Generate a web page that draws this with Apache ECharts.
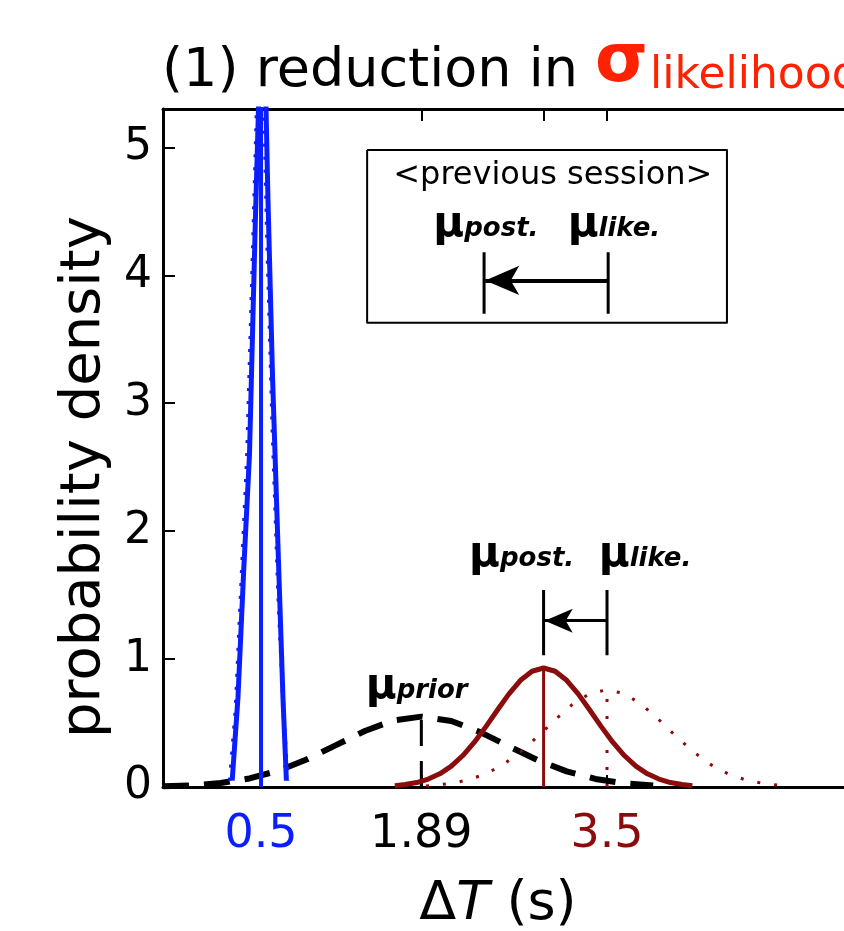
<!DOCTYPE html>
<html><head><meta charset="utf-8">
<script src="https://cdn.jsdelivr.net/npm/echarts@6/dist/echarts.min.js"></script>
<style>html,body{margin:0;padding:0;background:#fff}#c{width:844px;height:931px}</style>
</head><body><div id="c"></div>
<script>
// ---- data ----
const priorX = [-0.35,-0.1,0.15,0.4,0.65,0.9,1.15,1.4,1.65,1.89,2.15,2.4,2.65,2.9,3.15,3.4,3.65,3.9];
const priorY = [0.005,0.013,0.031,0.067,0.127,0.217,0.327,0.438,0.521,0.55,0.516,0.429,0.318,0.209,0.122,0.063,0.029,0.012];
const postX = [1.66,1.75,1.85,1.95,2.05,2.15,2.25,2.35,2.45,2.55,2.65,2.75,2.85,2.95,3.05,3.15,3.25,3.35,3.45,3.55,3.65,3.75,3.85,3.95,4.05,4.15,4.24];
const postY = [0.010,0.019,0.035,0.062,0.103,0.163,0.246,0.350,0.472,0.602,0.728,0.834,0.905,0.930,0.905,0.834,0.728,0.602,0.472,0.350,0.246,0.163,0.103,0.062,0.035,0.019,0.010];
const likeX = [1.93,2.0,2.15,2.3,2.45,2.6,2.75,2.9,3.05,3.2,3.35,3.5,3.65,3.8,3.95,4.1,4.25,4.4,4.55,4.7,4.85,5.0,5.07];
const likeY = [0.008,0.013,0.028,0.056,0.103,0.175,0.274,0.395,0.526,0.645,0.730,0.760,0.730,0.645,0.526,0.395,0.274,0.175,0.103,0.056,0.028,0.013,0.008];
const bluePostX = [0.25,0.30,0.35,0.40,0.45,0.515,0.56,0.60,0.65,0.69,0.72];
const bluePostY = [0.05,0.7,1.7,2.6,4.4,6.5,4.6,3.2,1.8,0.7,0.05];
const blueLikeX = [0.23,0.28,0.33,0.38,0.43,0.50,0.55,0.60,0.65,0.70,0.73];
const blueLikeY = [0.05,0.6,1.6,2.6,4.2,6.5,4.4,2.8,1.5,0.5,0.05];
const means = {blue: 0.5, prior: 1.89, post: 2.95, like: 3.5};
const peaks = {blue: 6.0, prior: 0.55, post: 0.93, like: 0.76};
const yTicks = [0,1,2,3,4,5];
const xTickLabels = [0.5, 1.89, 3.5];
const xTicks = [0.5, 1.89, 2.95, 3.5];
// annotation geometry (data units)
const arrowLow = {y: 1.3, barLo: 1.03, barHi: 1.54, labelY: 1.81};
const box = {x0: 1.42, x1: 4.54, y0: 3.63, y1: 4.98};
const boxArrow = {from: 3.51, to: 2.434, y: 3.96, barLo: 3.70, barHi: 4.18, labelY: 4.39, titleY: 4.78};

const RED = '#8b0c0c', BLUE = '#0a1eff', FONT = 'DejaVu Sans';
const zip = (xs, ys) => xs.map((x, i) => [x, ys[i]]);
const seg = (x0,y0,x1,y1) => [[x0,y0],[x1,y1]];

function lineS(data, color, width, type, z) {
  return {type:'line', data, symbol:'none', silent:true, animation:false, z: z||2,
    lineStyle:{color, width, type: type||'solid', cap:'butt', join:'round'}};
}
function textS(x, y, formatter, rich) {
  return {type:'scatter', data:[[x,y]], symbolSize:1, itemStyle:{color:'rgba(0,0,0,0)', opacity:1}, silent:true, animation:false, z:5,
    label:{show:true, position:'inside', formatter, rich, color:'#000', opacity:1, textBorderWidth:0}};
}
const muRich = {
  m:{fontFamily:FONT, fontSize:42, fontWeight:'bold', color:'#000', verticalAlign:'bottom'},
  s:{fontFamily:FONT, fontSize:26, fontWeight:'bold', fontStyle:'italic', color:'#000', verticalAlign:'bottom', padding:[0,0,4,0]}
};

const chart = echarts.init(document.getElementById('c'), null, {renderer:'canvas'});
chart.setOption({
  animation:false,
  backgroundColor:'#fff',
  title:{
    text:'{a|(1) reduction in }{b|σ}{c|likelihood}', left:157, top:24,
    textStyle:{fontWeight:'normal', rich:{
      a:{fontFamily:FONT, fontSize:54, fontWeight:'normal', color:'#000', verticalAlign:'bottom'},
      b:{fontFamily:FONT, fontSize:68, fontWeight:'bold', color:'#ff2200', verticalAlign:'bottom', padding:[0,2,2,0]},
      c:{fontFamily:FONT, fontSize:44, fontWeight:'normal', color:'#ff2200', verticalAlign:'bottom'}
    }}
  },
  grid:{left:163, top:109, width:790, bottom:144, show:false, outerBoundsMode:'none', containLabel:false},
  xAxis:[{
    type:'value', min:-0.35, max:6.5, position:'bottom',
    axisLine:{show:true, onZero:false, lineStyle:{color:'#000', width:3}},
    axisTick:{show:true, inside:true, length:12, customValues:xTicks, lineStyle:{color:'#000', width:2}},
    splitLine:{show:false},
    axisLabel:{show:true, customValues:xTickLabels, margin:25, fontFamily:FONT, fontSize:46,
      formatter:(v)=> Math.abs(v-0.5)<1e-6 ? '{b|0.5}' : (Math.abs(v-3.5)<1e-6 ? '{r|3.5}' : '{k|1.89}'),
      rich:{b:{color:BLUE, fontFamily:FONT, fontSize:46}, r:{color:RED, fontFamily:FONT, fontSize:46}, k:{color:'#000', fontFamily:FONT, fontSize:46}}}
  },{
    type:'value', min:-0.35, max:6.5, position:'top',
    axisLine:{show:true, onZero:false, lineStyle:{color:'#000', width:3}},
    axisTick:{show:true, inside:true, length:12, customValues:xTicks, lineStyle:{color:'#000', width:2}},
    axisLabel:{show:false}, splitLine:{show:false}
  }],
  yAxis:[{
    type:'value', min:0, max:5.3, interval:1, position:'left',
    axisLine:{show:true, onZero:false, lineStyle:{color:'#000', width:3}},
    axisTick:{show:true, inside:true, length:12, customValues:yTicks, lineStyle:{color:'#000', width:2}},
    axisLabel:{show:true, customValues:yTicks, margin:11, fontFamily:FONT, fontSize:44, color:'#000'},
    splitLine:{show:false}
  }],
  graphic:[
    {type:'text', x:84, y:477, rotation:Math.PI/2,
      style:{text:'probability density', fontFamily:FONT, fontSize:56, fill:'#000', align:'center', verticalAlign:'middle'}},
    {type:'text', x:498, y:905,
      style:{text:'{d|Δ}{t|T}{d| (s)}', align:'center', verticalAlign:'middle',
        rich:{d:{fontFamily:FONT, fontSize:54, fill:'#000'}, t:{fontFamily:FONT, fontSize:54, fontStyle:'italic', fill:'#000'}}}}
  ],
  series:[
    lineS(zip(priorX, priorY), '#000', 6, [26,15], 2),
    lineS(seg(means.prior,0,means.prior,peaks.prior), '#000', 3, [26,15], 2),
    lineS(zip(likeX, likeY), RED, 3, [3,14], 3),
    lineS(seg(means.like,0,means.like,peaks.like), RED, 3, [3,14], 3),
    lineS(zip(postX, postY), RED, 5, 'solid', 3),
    lineS(seg(means.post,0,means.post,peaks.post), RED, 3, 'solid', 3),
    lineS(zip(bluePostX, bluePostY), BLUE, 5, 'solid', 4),
    lineS(zip(blueLikeX, blueLikeY), BLUE, 4, [3,10], 4),
    lineS(seg(means.blue,0,means.blue,peaks.blue), BLUE, 4, 'solid', 4),
    // lower arrow annotation
    lineS(seg(means.post,arrowLow.barLo,means.post,arrowLow.barHi), '#000', 3, 'solid', 4),
    lineS(seg(means.like,arrowLow.barLo,means.like,arrowLow.barHi), '#000', 3, 'solid', 4),
    {type:'line', data:[], silent:true, animation:false, z:4,
      markLine:{silent:true, animation:false, symbol:['none','arrow'], symbolSize:[18,28],
        lineStyle:{color:'#000', width:3, type:'solid'}, label:{show:false},
        data:[[{coord:[means.like, arrowLow.y]},{coord:[means.post+0.01, arrowLow.y]}]]}},
    textS(2.76, arrowLow.labelY, '{m|μ}{s|post.}', muRich),
    textS(3.83, arrowLow.labelY, '{m|μ}{s|like.}', muRich),
    textS(1.85, 0.78, '{m|μ}{s|prior}', muRich),
    // previous-session box
    lineS([[box.x0,box.y1],[box.x1,box.y1],[box.x1,box.y0],[box.x0,box.y0],[box.x0,box.y1]], '#000', 2, 'solid', 4),
    lineS(seg(boxArrow.to,boxArrow.barLo,boxArrow.to,boxArrow.barHi), '#000', 3, 'solid', 4),
    lineS(seg(boxArrow.from,boxArrow.barLo,boxArrow.from,boxArrow.barHi), '#000', 3, 'solid', 4),
    {type:'line', data:[], silent:true, animation:false, z:4,
      markLine:{silent:true, animation:false, symbol:['none','arrow'], symbolSize:[22,34],
        lineStyle:{color:'#000', width:4, type:'solid'}, label:{show:false},
        data:[[{coord:[boxArrow.from, boxArrow.y]},{coord:[boxArrow.to+0.01, boxArrow.y]}]]}},
    textS(3.03, boxArrow.titleY, '{t|<previous session>}', {t:{fontFamily:FONT, fontSize:32, color:'#000'}}),
    textS(2.45, boxArrow.labelY, '{m|μ}{s|post.}', muRich),
    textS(3.56, boxArrow.labelY, '{m|μ}{s|like.}', muRich)
  ]
});
</script></body></html>
